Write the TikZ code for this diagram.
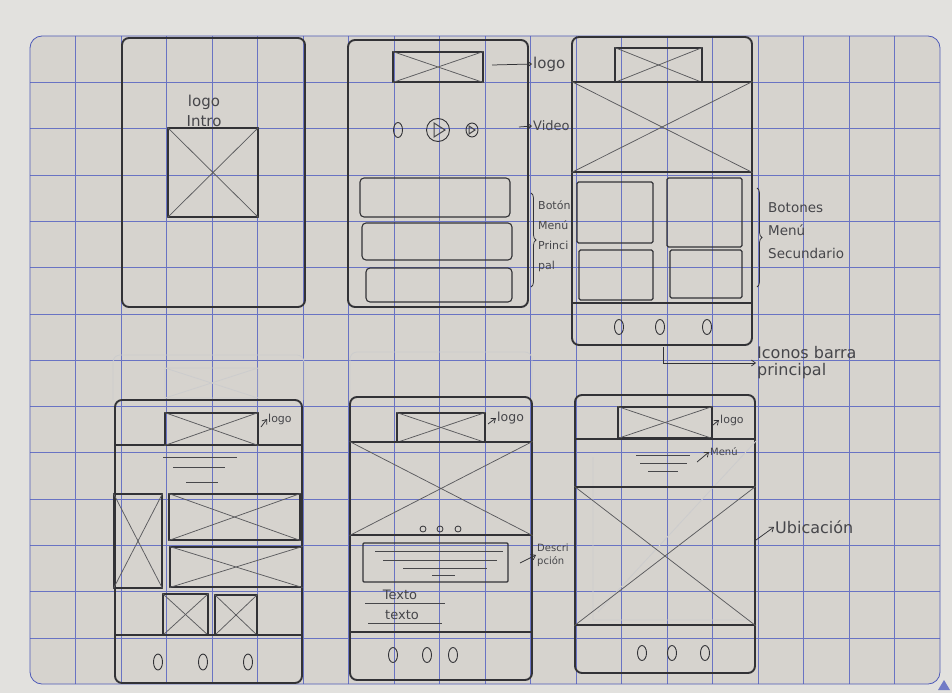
\documentclass[tikz,border=0pt]{standalone}
\usepackage{fontspec}
\setmainfont{DejaVu Sans}
\usepackage{tikz}
\usetikzlibrary{arrows.meta,positioning,fit,shapes.geometric,decorations.pathreplacing}
\definecolor{papel}{RGB}{214,211,206}
\definecolor{fondo}{RGB}{226,225,222}
\definecolor{cuadro}{RGB}{78,90,184}
\definecolor{lapiz}{RGB}{50,50,54}
\tikzset{
  hoja/.style={draw=cuadro, line width=.8pt, rounded corners=12pt},
  linea/.style={draw=cuadro!85, line width=.5pt},
  movil/.style={draw=lapiz, line width=1.9pt, rounded corners=7pt, inner sep=0pt, fit={#1}},
  ximg/.style={draw=lapiz, line width=1.1pt, inner sep=0pt, fit={#1},
    append after command={(\tikzlastnode.north west) edge[cruz] (\tikzlastnode.south east)
      (\tikzlastnode.north east) edge[cruz] (\tikzlastnode.south west)}},
  cruz/.style={draw=lapiz!80, line width=.75pt},
  boton/.style={draw=lapiz, line width=1.1pt, rounded corners=4pt, inner sep=0pt, fit={#1}},
  circ/.style={draw=lapiz, ellipse, line width=.9pt, minimum width=9pt, minimum height=15pt, inner sep=0pt},
  punto/.style={draw=lapiz, circle, line width=.8pt, minimum size=6pt, inner sep=0pt},
  sep/.style={draw=lapiz, line width=1.6pt},
  txt/.style={draw=lapiz!90, line width=1pt},
  tenue/.style={draw=lapiz!25, line width=.8pt},
  nota/.style={text=lapiz!90, font=\fontsize{12}{19}\selectfont, align=left, inner sep=1pt},
  chica/.style={nota, font=\fontsize{10}{13}\selectfont},
  flecha/.style={draw=lapiz, line width=.75pt, -{Straight Barb[length=4pt,width=6pt]}},
  llave/.style={draw=lapiz, line width=.75pt, decorate, decoration={brace, amplitude=5pt}},
}
\begin{document}
\begin{tikzpicture}[x=1pt, y=-1pt]
\useasboundingbox (0,0) rectangle (952,693);
\fill[fondo] (0,0) rectangle (952,693);
\fill[papel, rounded corners=12pt] (30,36) rectangle (940,684);
% cuadricula
\foreach \i in {1,...,19}
  \draw[linea] ({30+45.5*\i},36) -- ({30+45.5*\i},684);
\foreach \j in {1,...,13}
  \draw[linea] (30,{36+46.3*\j}) -- (940,{36+46.3*\j});
\draw[hoja] (30,36) rectangle (940,684);
\fill[cuadro!80] (938,690) -- (950,690) -- (944,680) -- cycle;

% pantalla 1: inicio
\node[movil={(122,38) (305,307)}] (m1) {};
\node[ximg={(168,128) (258,217)}] (m1logo) {};
\node[nota, font=\fontsize{15}{20}\selectfont, align=center] (t1logo) at (204,111) {logo\\Intro};

% pantalla 2: video y menu principal
\node[movil={(348,40) (528,307)}] (m2) {};
\node[ximg={(393,52) (483,82)}] (m2logo) {};
\node[circ] (m2a) at (398,130) {};
\node[circ, circle, minimum size=23pt] (m2b) at (438,130) {};
\node[circ, minimum width=12pt, minimum height=14pt] (m2c) at (472,130) {};
\draw[txt] (434,123) -- (434,137) -- (445,130) -- cycle;
\draw[txt] (469,126) -- (469,134) -- (475,130) -- cycle;
\node[boton={(360,178) (510,217)}] (m2b1) {};
\node[boton={(362,223) (512,260)}] (m2b2) {};
\node[boton={(366,268) (512,302)}] (m2b3) {};
\draw[llave] (531,193) -- (531,287);
\node[chica, font=\fontsize{11}{20}\selectfont, anchor=west] (t2menu) at (537,236) {Botón\\Menú\\Princi\\pal};
\coordinate (a2logo) at (492,65);
\node[nota, font=\fontsize{15}{17}\selectfont, anchor=west] (t2logo) at (532,64) {logo};
\draw[flecha] (a2logo) -- (t2logo.west);
\coordinate (a2vid) at (519,127);
\node[nota, font=\fontsize{13}{17}\selectfont, anchor=west] (t2vid) at (532,126) {Video};
\draw[flecha] (a2vid) -- (t2vid.west);

% pantalla 3: menu secundario
\node[movil={(572,37) (752,345)}] (m3) {};
\draw[sep] (572,303) -- (752,303);
\node[ximg={(615,48) (702,82)}] (m3logo) {};
\node[ximg={(572,82) (752,172)}] (m3img) {};
\node[boton={(577,182) (653,243)}, rounded corners=1.5pt] (m3b1) {};
\node[boton={(667,178) (742,247)}, rounded corners=1.5pt] (m3b2) {};
\node[boton={(579,250) (653,300)}, rounded corners=1.5pt] (m3b3) {};
\node[boton={(670,250) (742,298)}, rounded corners=1.5pt] (m3b4) {};
\node[circ] (m3a) at (619,327) {};
\node[circ] (m3b) at (660,327) {};
\node[circ] (m3c) at (707,327) {};
\draw[llave] (757,188) -- (757,287);
\node[nota, font=\fontsize{13.5}{23}\selectfont, anchor=west] (t3menu) at (767,231) {Botones\\Menú\\Secundario};
\coordinate (a3nav) at (663,347);
\node[nota, font=\fontsize{16}{17}\selectfont, anchor=west] (t3nav) at (756,363) {Iconos barra\\principal};
\draw[flecha] (a3nav) |- (t3nav.west);

% pantalla 4: galeria
\draw[tenue, rounded corners=7pt] (113,400) -- (113,355) -- (304,355) -- (304,400);
\draw[tenue] (165,368) rectangle (258,398) (165,368) -- (258,398) (165,398) -- (258,368);
\node[movil={(115,400) (302,683)}] (m4) {};
\draw[sep] (115,445) -- (302,445);
\node[ximg={(165,413) (258,445)}] (m4logo) {};
\coordinate (a4logo) at (261,427);
\node[chica, font=\fontsize{11}{13}\selectfont, anchor=west] (t4logo) at (267,419) {logo};
\draw[flecha] (a4logo) -- (t4logo.west);
\draw[txt] (163,457) -- (237,457) (173,467) -- (225,467) (186,482) -- (218,482);
\node[ximg={(114,494) (162,588)}] (m4f1) {};
\node[ximg={(169,494) (300,540)}] (m4f2) {};
\node[ximg={(170,547) (302,587)}] (m4f3) {};
\node[ximg={(163,594) (208,635)}] (m4f4) {};
\node[ximg={(215,595) (257,635)}] (m4f5) {};
\draw[sep] (115,635) -- (302,635);
\node[circ, minimum height=16pt] (m4a) at (158,662) {};
\node[circ, minimum height=16pt] (m4b) at (203,662) {};
\node[circ, minimum height=16pt] (m4c) at (248,662) {};

% pantalla 5: detalle
\draw[tenue, rounded corners=7pt] (350,397) -- (350,352) -- (532,352) -- (532,397);
\node[movil={(350,397) (532,680)}] (m5) {};
\node[ximg={(397,413) (485,442)}] (m5logo) {};
\draw[sep] (350,442) -- (532,442);
\coordinate (a5logo) at (488,424);
\node[chica, font=\fontsize{12.5}{14}\selectfont, anchor=west] (t5logo) at (496,418) {logo};
\draw[flecha] (a5logo) -- (t5logo.west);
\node[ximg={(350,442) (532,535)}] (m5img) {};
\node[punto] (m5a) at (423,529) {};
\node[punto] (m5b) at (440,529) {};
\node[punto] (m5c) at (458,529) {};
\node[boton={(363,543) (508,582)}, rounded corners=1pt] (m5desc) {};
\draw[txt] (375,551) -- (503,551) (383,560) -- (497,560) (403,568) -- (487,568) (432,575) -- (455,575);
\coordinate (a5desc) at (520,563);
\node[chica, anchor=west] (t5desc) at (536,555) {Descri\\pción};
\draw[flecha] (a5desc) -- (t5desc.west);
\node[nota, font=\fontsize{13}{14}\selectfont] (t5tex1) at (400,595) {Texto};
\node[nota, font=\fontsize{13}{14}\selectfont] (t5tex2) at (402,615) {texto};
\draw[txt] (365,603) -- (445,603) (368,623) -- (442,623);
\draw[sep] (350,632) -- (532,632);
\node[circ] (m5d) at (393,655) {};
\node[circ] (m5e) at (427,655) {};
\node[circ] (m5f) at (453,655) {};

% pantalla 6: ubicacion
\node[movil={(575,395) (755,673)}] (m6) {};
\node[ximg={(618,407) (712,438)}] (m6logo) {};
\draw[sep] (575,439) -- (755,439);
\coordinate (a6logo) at (713,425);
\node[chica, font=\fontsize{11}{13}\selectfont, anchor=west] (t6logo) at (719,420) {logo};
\draw[flecha] (a6logo) -- (t6logo.west);
\draw[txt] (636,455) -- (690,455) (640,463) -- (687,463) (648,471) -- (678,471);
\coordinate (a6menu) at (697,462);
\node[chica, anchor=west] (t6menu) at (709,452) {Menú};
\draw[flecha] (a6menu) -- (t6menu.west);
\draw[tenue] (593,457) -- (593,620) -- (757,620) (757,440) -- (598,612);
\node[ximg={(575,487) (755,625)}] (m6mapa) {};
\node[circ] (m6a) at (642,653) {};
\node[circ] (m6b) at (672,653) {};
\node[circ] (m6c) at (705,653) {};
\coordinate (a6ubi) at (756,540);
\node[nota, font=\fontsize{16}{17}\selectfont, anchor=west] (t6ubi) at (774,527) {Ubicación};
\draw[flecha] (a6ubi) -- (t6ubi.west);
\end{tikzpicture}
\end{document}
